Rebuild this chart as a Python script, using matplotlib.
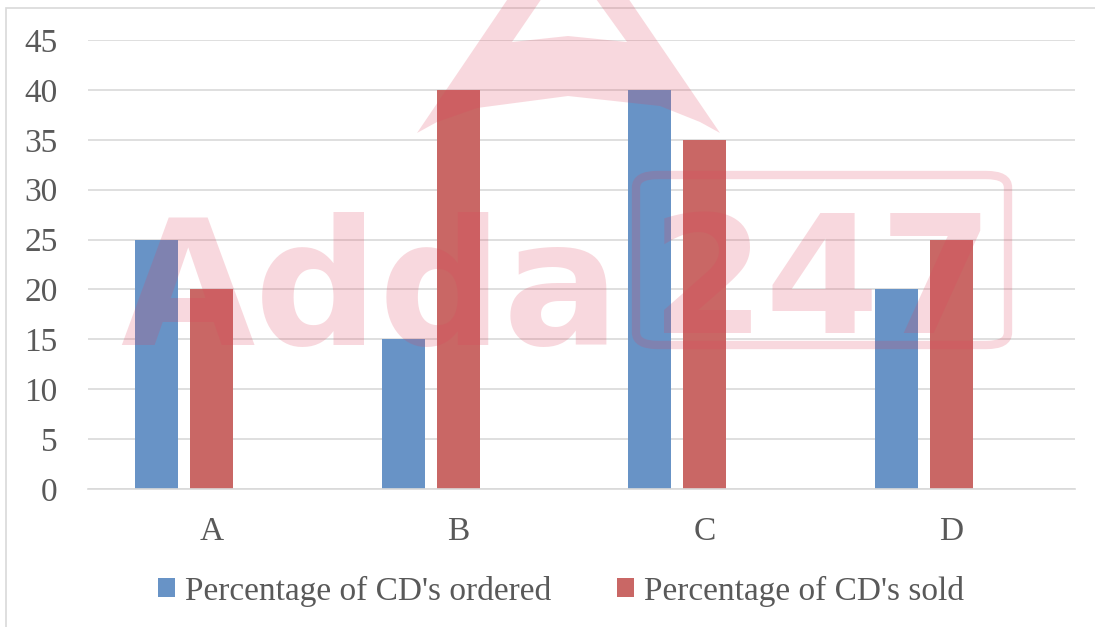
import matplotlib.pyplot as plt
from matplotlib.patches import Rectangle, FancyBboxPatch, PathPatch
from matplotlib.path import Path
import numpy as np

categories = ['A', 'B', 'C', 'D']
ordered = [25, 15, 40, 20]
sold = [20, 40, 35, 25]
series_names = ["Percentage of CD's ordered", "Percentage of CD's sold"]
yticks = [0, 5, 10, 15, 20, 25, 30, 35, 40, 45]

blue = '#6893c6'
red = '#c96765'
grid_col = '#d9d9d9'
text_col = '#595959'
pink = '#e0405a'

plt.rcParams['font.family'] = ['Liberation Serif', 'DejaVu Serif']

W, H = 1095, 627
fig = plt.figure(figsize=(W / 100, H / 100), dpi=100)
ax = fig.add_axes([88 / W, 1 - 489 / H, (1075 - 88) / W, (489 - 40) / H])

x = np.arange(len(categories))
step = 0.223
width = 0.174
ax.bar(x - step, ordered, width, color=blue, label=series_names[0], zorder=2)
ax.bar(x, sold, width, color=red, label=series_names[1], zorder=2)

ax.set_xlim(-0.5, len(categories) - 0.5)
ax.set_ylim(0, 45)
ax.set_yticks(yticks)
ax.set_xticks(x)
ax.set_xticklabels(categories)
ax.grid(axis='y', color=grid_col, linewidth=1.2, zorder=0)
ax.tick_params(axis='both', length=0, labelsize=24, labelcolor=text_col)
ax.tick_params(axis='y', pad=22)
ax.tick_params(axis='x', pad=20)
for side in ['top', 'right', 'left']:
    ax.spines[side].set_visible(False)
ax.spines['bottom'].set_color(grid_col)
ax.spines['bottom'].set_linewidth(1.2)

leg = fig.legend(loc='center', bbox_to_anchor=(561 / W, 1 - 591 / H), ncol=2,
                 frameon=False, fontsize=24, handlelength=0.5, handleheight=0.5,
                 handletextpad=0.3, columnspacing=2.0)
for t in leg.get_texts():
    t.set_color(text_col)

# chart border
fig.add_artist(Rectangle((6 / W, -0.05), 1.1, 1 - 8 / H + 0.05,
                         transform=fig.transFigure, fill=False,
                         edgecolor='#d9d9d9', linewidth=1.2, clip_on=False))


# watermark logo (pixel coords, y from top)
def px(pts):
    return [(a / W, 1 - b / H) for a, b in pts]

outer = px([(417, 133), (568, -90), (720, 133), (700, 122), (660, 106),
            (568, 96), (477, 108), (437, 122), (417, 133)])
hole = px([(512, 42), (568, 36), (627, 42), (568, -40), (512, 42)])
verts = outer + hole
codes = ([Path.MOVETO] + [Path.LINETO] * (len(outer) - 2) + [Path.CLOSEPOLY]
         + [Path.MOVETO] + [Path.LINETO] * (len(hole) - 2) + [Path.CLOSEPOLY])
fig.add_artist(PathPatch(Path(verts, codes), transform=fig.transFigure,
                         facecolor=pink, edgecolor='none', alpha=0.2, zorder=5))

fig.text(120 / W, 1 - 345 / H, 'Adda', fontsize=125, fontweight='bold',
         family='DejaVu Sans', color=pink, alpha=0.2, ha='left', va='baseline', zorder=5)
fig.text(822 / W, 1 - 333 / H, '247', fontsize=118, fontweight='bold',
         family='DejaVu Sans', color=pink, alpha=0.2, ha='center', va='baseline', zorder=5)
fig.add_artist(FancyBboxPatch((636 / W, 1 - 345 / H), 372 / W, 170 / H,
                              boxstyle='round,pad=0,rounding_size=0.02',
                              transform=fig.transFigure, fill=False, edgecolor=pink,
                              alpha=0.2, linewidth=6, zorder=5))

fig.savefig('out.png', dpi=100)
